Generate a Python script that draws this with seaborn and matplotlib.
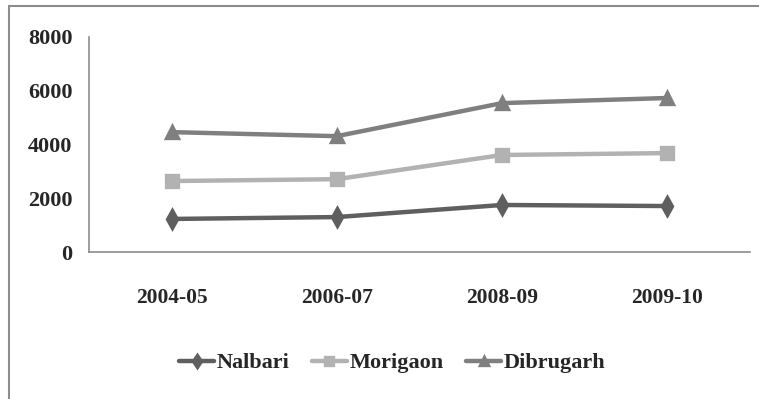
import matplotlib
matplotlib.use("Agg")
import matplotlib.pyplot as plt
from matplotlib.lines import Line2D
import pandas as pd
import seaborn as sns

# District-wise figures by year
years = ["2004-05", "2006-07", "2008-09", "2009-10"]
nalbari = [1230, 1300, 1750, 1710]
morigaon = [2640, 2710, 3610, 3680]
dibrugarh = [4460, 4310, 5540, 5730]

districts = ["Nalbari", "Morigaon", "Dibrugarh"]
series = [nalbari, morigaon, dibrugarh]
colors = ["#5f5f5f", "#b2b2b2", "#7f7f7f"]
markers = ["d", "s", "^"]

df = pd.DataFrame(
    [(y, d, v) for d, vals in zip(districts, series) for y, v in zip(years, vals)],
    columns=["year", "district", "value"],
)

sns.set_style("white")
plt.rcParams["font.family"] = ["Liberation Serif", "DejaVu Serif"]
plt.rcParams["font.weight"] = "bold"

fig = plt.figure(figsize=(7.59, 3.99), dpi=100)
ax = fig.add_axes([0.1173, 0.3684, 0.8707, 0.5389])

sns.pointplot(
    data=df, x="year", y="value", hue="district",
    order=years, hue_order=districts,
    palette=colors, markers=markers, linestyles="-",
    markersize=9, linewidth=3.2, errorbar=None, ax=ax,
)

ax.set_ylim(0, 8000)
ax.set_xlim(-0.5, 3.5)
ax.set_yticks([0, 2000, 4000, 6000, 8000])
ax.set_xlabel("")
ax.set_ylabel("")
ax.tick_params(axis="both", length=0)
ax.tick_params(axis="y", pad=12, labelsize=16)
ax.tick_params(axis="x", pad=26, labelsize=15.5)
for lab in ax.get_xticklabels() + ax.get_yticklabels():
    lab.set_fontweight("bold")

for side in ["top", "right"]:
    ax.spines[side].set_visible(False)
for side in ["left", "bottom"]:
    ax.spines[side].set_color("#8c8c8c")
    ax.spines[side].set_linewidth(1.2)

handles, labels = ax.get_legend_handles_labels()
ax.get_legend().remove()
fig.legend(
    handles, labels, loc="center", bbox_to_anchor=(392 / 759, 1 - 363 / 399),
    ncol=3, frameon=False, handlelength=1.6, handletextpad=0.1,
    columnspacing=1.0, markerscale=0.7,
    prop={"family": "Liberation Serif", "weight": "bold", "size": 16},
)

# outer frame (left and top edges)
fig.add_artist(Line2D([9 / 759, 9 / 759], [0, 1 - 6 / 399], transform=fig.transFigure,
                      color="#8c8c8c", lw=1.5))
fig.add_artist(Line2D([9 / 759, 1], [1 - 6 / 399, 1 - 6 / 399], transform=fig.transFigure,
                      color="#8c8c8c", lw=1.5))

fig.savefig("out.png", dpi=100)
